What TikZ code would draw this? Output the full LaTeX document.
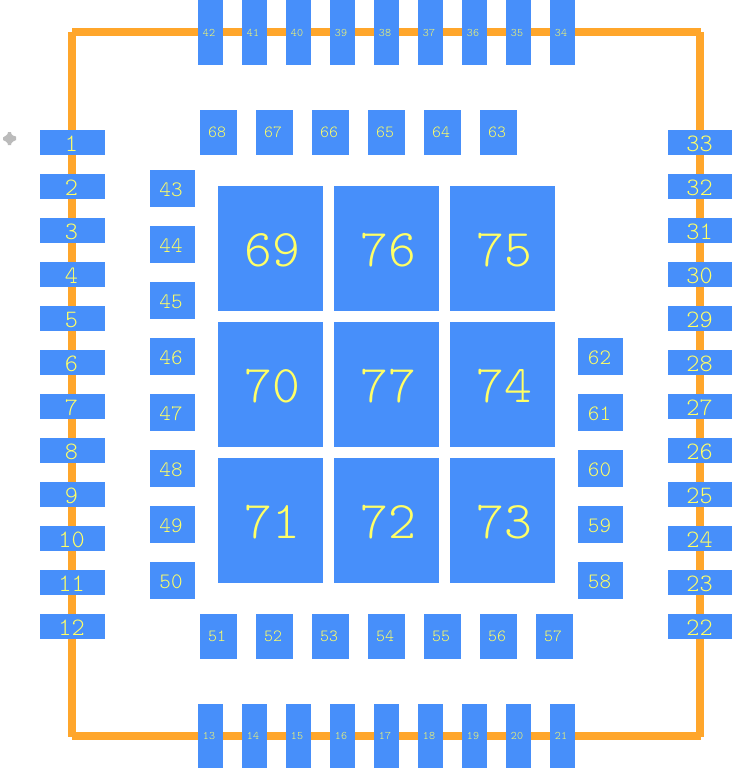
\documentclass[tikz,border=0pt]{standalone}
\usepackage{fontspec}
\setmonofont{Latin Modern Mono Light}
\definecolor{padblue}{HTML}{478FFA}
\definecolor{outline}{HTML}{FFA62B}
\definecolor{labelyellow}{HTML}{FFFF66}
\definecolor{marker}{HTML}{BBBBBB}
\tikzset{
  padbox/.style={fill=padblue,draw=none,inner sep=0pt,outer sep=0pt,rectangle,text=labelyellow,align=center},
  outlineline/.style={draw=outline,line width=8pt,line cap=butt},
  bigtext/.style={font=\fontsize{53}{53}\ttfamily,text height=36pt,text depth=0pt},
  pintext/.style={font=\fontsize{25}{25}\ttfamily,text height=17pt,text depth=0pt},
  midtext/.style={font=\fontsize{22}{22}\ttfamily,text height=15pt,text depth=0pt},
  smalltext/.style={font=\fontsize{17}{17}\ttfamily},
  tinytext/.style={font=\fontsize{11.5}{11.5}\ttfamily}
}
% \padnode{x0}{y0}{x1}{y1}{label}{style}{text shift}
\newcommand{\padnode}[7]{%
  \pgfmathsetmacro{\pw}{#3-#1}\pgfmathsetmacro{\ph}{#4-#2}%
  \pgfmathsetmacro{\pcx}{(#1+#3)/2}\pgfmathsetmacro{\pcy}{(#2+#4)/2}%
  \node[padbox,#6,minimum width=\pw pt,minimum height=\ph pt] (pad#5) at (\pcx,\pcy) {#5\kern#7pt};%
}
\begin{document}
\begin{tikzpicture}[x=1pt,y=-1pt]
\useasboundingbox (0,0) rectangle (732,768);
\fill[white] (0,0) rectangle (732,768);
% outline
\draw[outlineline] (72,32) -- (701,32);
\draw[outlineline] (72,32) -- (72,737);
\draw[outlineline] (700,32) -- (700,737);
\draw[outlineline] (72,736) -- (701,736);
% origin marker
\fill[marker] (8,132) -- (11,132) -- (11.5,134) -- (13,135.5) -- (16,136.5) -- (16,140) -- (13,141.5) -- (11.5,143) -- (11,145) -- (8,145) -- (7.5,143) -- (6,141.5) -- (3,140) -- (3,137.5) -- (6,135.5) -- (7.5,134) -- cycle;
% left pins 1-12
\foreach \n [evaluate=\n as \yy using {130+44*(\n-1)}] in {1,...,12}
  {\padnode{40}{\yy}{105}{\yy+25}{\n}{pintext}{2}}
% right pins 33-22
\foreach \n [evaluate=\n as \yy using {130+44*(33-\n)}] in {33,32,...,22}
  {\padnode{668}{\yy}{732}{\yy+25}{\n}{pintext}{1}}
% top pins 42-34
\foreach \n [evaluate=\n as \xx using {198+44*(42-\n)}] in {42,41,...,34}
  {\padnode{\xx}{0}{\xx+25}{65}{\n}{tinytext}{3}}
% bottom pins 13-21
\foreach \n [evaluate=\n as \xx using {198+44*(\n-13)}] in {13,...,21}
  {\padnode{\xx}{704}{\xx+25}{768}{\n}{tinytext}{3}}
% inner top 68-63
\foreach \n [evaluate=\n as \xx using {200+56*(68-\n)}] in {68,67,...,63}
  {\padnode{\xx}{110}{\xx+37}{155}{\n}{smalltext}{3}}
% inner left 43-50
\foreach \n [evaluate=\n as \yy using {170+56*(\n-43)}] in {43,...,50}
  {\padnode{150}{\yy}{195}{\yy+37}{\n}{midtext}{3}}
% inner bottom 51-57
\foreach \n [evaluate=\n as \xx using {200+56*(\n-51)}] in {51,...,57}
  {\padnode{\xx}{614}{\xx+37}{659}{\n}{smalltext}{3}}
% inner right 62-58
\foreach \n [evaluate=\n as \yy using {338+56*(62-\n)}] in {62,61,...,58}
  {\padnode{578}{\yy}{623}{\yy+37}{\n}{midtext}{2}}
% thermal pads
\padnode{218}{186}{323}{311}{69}{bigtext}{-3}
\padnode{334}{186}{439}{311}{76}{bigtext}{-3}
\padnode{450}{186}{555}{311}{75}{bigtext}{-3}
\padnode{218}{322}{323}{447}{70}{bigtext}{-3}
\padnode{334}{322}{439}{447}{77}{bigtext}{-3}
\padnode{450}{322}{555}{447}{74}{bigtext}{-3}
\padnode{218}{458}{323}{583}{71}{bigtext}{-3}
\padnode{334}{458}{439}{583}{72}{bigtext}{-3}
\padnode{450}{458}{555}{583}{73}{bigtext}{-3}
\end{tikzpicture}
\end{document}
